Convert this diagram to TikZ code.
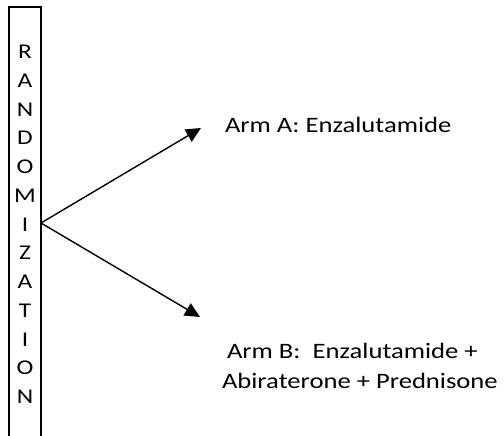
\documentclass[tikz,border=0pt]{standalone}
\usepackage{fontspec}
\setmainfont{Carlito}[FakeStretch=1.21]
\usetikzlibrary{arrows.meta}
\begin{document}
\begin{tikzpicture}[x=1pt,y=1pt,
  every node/.style={inner sep=0pt, outer sep=0pt},
  labeltext/.style={font=\fontsize{22}{30}\selectfont, align=left},
  column/.style={font=\fontsize{21}{28.75}\selectfont, align=center},
  frame/.style={draw, line width=1.2pt, minimum width=32pt, minimum height=459pt},
  arm/.style={line width=1.4pt, -{Triangle[length=15pt,width=14pt]}}]
\useasboundingbox (0,0) rectangle (504,436);
% tall frame; its bottom edge lies below the page
\node[frame] (frame) at (25,199.5) {};
\node[column, anchor=base] (rand) at (25,32.3)
  {R\\A\\N\\D\\O\\M\\I\\Z\\A\\T\\I\\O\\N};
% branching point and arrow tips
\coordinate (split) at (41,213);
\coordinate (tipA) at (201,308);
\coordinate (tipB) at (200,119);
\node[labeltext, anchor=base west] (armA) at (225,303) {Arm A: Enzalutamide};
\node[labeltext, anchor=base west] (armB) at (222,47)
  {\hspace*{5pt}Arm B:\ \ Enzalutamide +\\Abiraterone + Prednisone};
\draw[arm] (split) -- (tipA);
\draw[arm] (split) -- (tipB);
\end{tikzpicture}
\end{document}
